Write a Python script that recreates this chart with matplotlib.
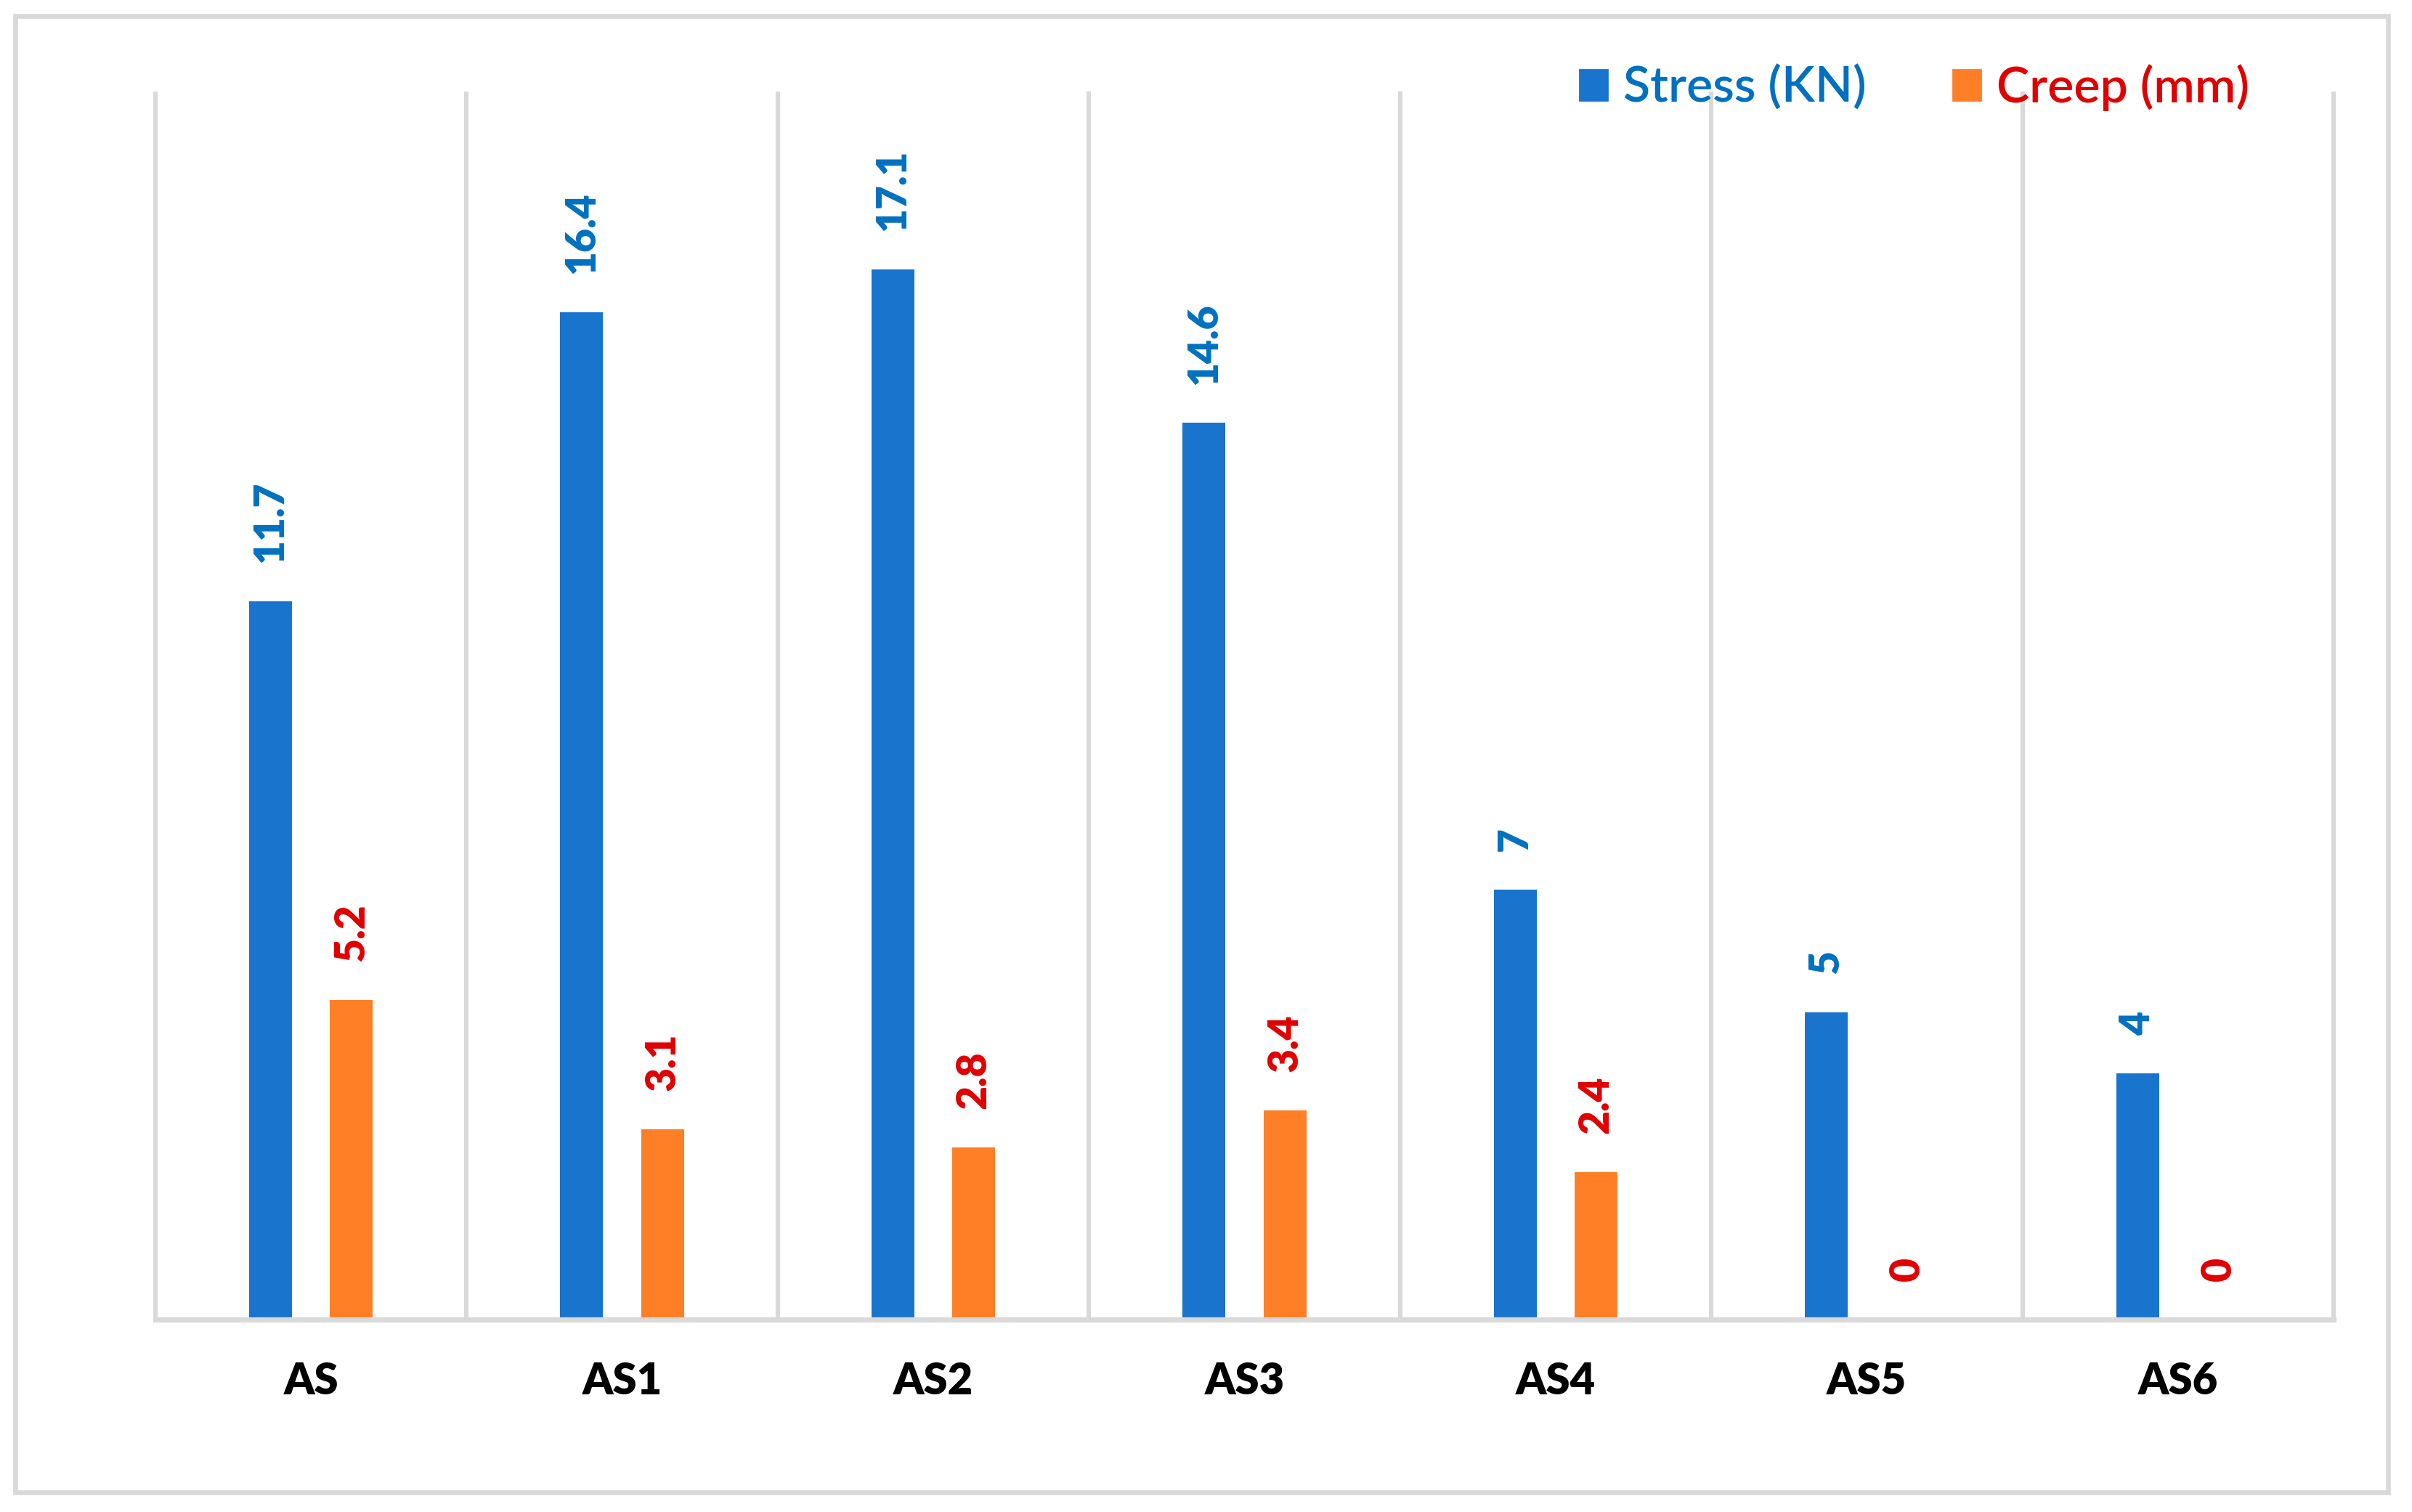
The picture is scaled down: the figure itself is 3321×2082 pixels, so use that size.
import numpy as np
import matplotlib
matplotlib.use("Agg")
import matplotlib.pyplot as plt
from matplotlib.patches import Patch, Rectangle

plt.rcParams['font.family'] = ['Lato', 'DejaVu Sans']

# data
categories = ['AS', 'AS1', 'AS2', 'AS3', 'AS4', 'AS5', 'AS6']
stress = [11.7, 16.4, 17.1, 14.6, 7, 5, 4]
creep = [5.2, 3.1, 2.8, 3.4, 2.4, 0, 0]
stress_labels = ['11.7', '16.4', '17.1', '14.6', '7', '5', '4']
creep_labels = ['5.2', '3.1', '2.8', '3.4', '2.4', '0', '0']

blue = '#1874CD'
orange = '#FF7F27'
blue_txt = '#0070C0'
red_txt = '#E00000'
grey = '#D9D9D9'

fig = plt.figure(figsize=(3321 / 200, 2082 / 200), dpi=200)
ax = fig.add_axes([0.0644, 0.1275, 0.9675 - 0.0644, 0.9395 - 0.1275])

x = np.arange(len(categories))
w = 0.138
off = 0.13
b1 = ax.bar(x - off, stress, w, color=blue, zorder=3)
b2 = ax.bar(x + off, creep, w, color=orange, zorder=3)

# data labels (rotated)
for rect, lab in zip(b1, stress_labels):
    ax.annotate(lab, (rect.get_x() + rect.get_width() / 2, rect.get_height()),
                xytext=(0, 19), textcoords='offset points', rotation=90,
                ha='center', va='bottom', color=blue_txt, fontsize=20.5,
                fontweight='heavy')
for rect, lab in zip(b2, creep_labels):
    ax.annotate(lab, (rect.get_x() + rect.get_width() / 2, rect.get_height()),
                xytext=(0, 19), textcoords='offset points', rotation=90,
                ha='center', va='bottom', color=red_txt, fontsize=20.5,
                fontweight='heavy')

ax.set_xlim(-0.5, len(categories) - 0.5)
ax.set_ylim(0, 20)

# vertical separators between categories
bounds = np.arange(len(categories) + 1) - 0.5
ax.vlines(bounds, 0, 20, colors=grey, linewidth=2.2, zorder=1, clip_on=False)

for s in ['top', 'right', 'left']:
    ax.spines[s].set_visible(False)
ax.spines['bottom'].set_color(grey)
ax.spines['bottom'].set_linewidth(2.6)
ax.spines['bottom'].set_zorder(4)

ax.set_yticks([])
ax.set_xticks(x)
ax.set_xticklabels(categories, fontsize=21.5, fontweight='heavy', color='black')
ax.tick_params(axis='x', length=0, pad=21)

# legend
handles = [Patch(color=blue), Patch(color=orange)]
leg = fig.legend(handles, ['Stress (KN)', 'Creep (mm)'], loc='center left',
                 bbox_to_anchor=(0.655, 0.942), ncol=2, frameon=False,
                 prop={'size': 24.5, 'weight': 'semibold'},
                 handlelength=0.56, handleheight=0.56,
                 handletextpad=0.32, columnspacing=1.75, borderpad=0,
                 borderaxespad=0)
leg.get_texts()[0].set_color(blue_txt)
leg.get_texts()[1].set_color(red_txt)

# outer frame
fig.patches.append(Rectangle((21 / 3321, 1 - 2055 / 2082),
                             (3288 - 21) / 3321, (2055 - 22) / 2082,
                             transform=fig.transFigure, fill=False,
                             edgecolor=grey, linewidth=2.4))

fig.savefig('out.png', dpi=200)
